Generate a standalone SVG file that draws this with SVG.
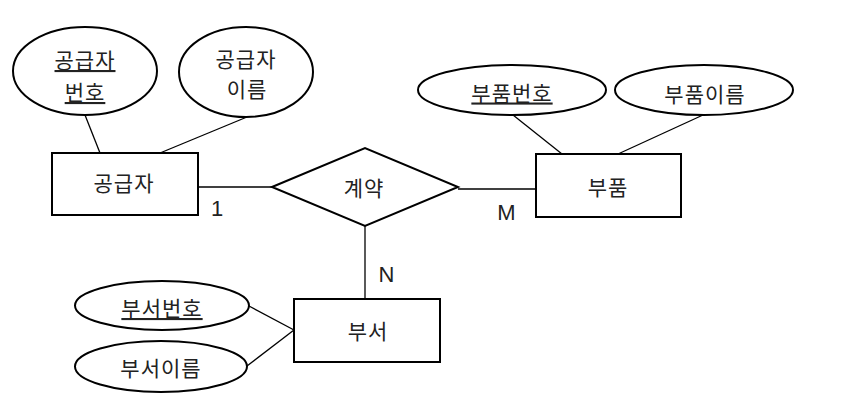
<svg xmlns="http://www.w3.org/2000/svg" width="842" height="418" viewBox="0 0 842 418">
<style>
.shape{fill:#fff;stroke:#000;stroke-width:2}
.conn line{stroke:#000;stroke-width:1.3}
text{font-family:"Noto Sans CJK KR","Noto Sans",sans-serif;font-size:21px;fill:#222;text-anchor:middle;letter-spacing:1px}
.u{text-decoration:underline}
.card{font-family:"Liberation Sans",Arial,sans-serif;font-size:22px;letter-spacing:0}
</style>
<rect width="842" height="418" fill="#fff"/>
<g id="connectors" class="conn">
<line x1="85" y1="115" x2="100" y2="153"/>
<line x1="247" y1="117" x2="160" y2="153"/>
<line x1="198" y1="187" x2="272" y2="187"/>
<line x1="458" y1="189" x2="536" y2="189"/>
<line x1="513" y1="115" x2="562" y2="154"/>
<line x1="703" y1="115" x2="618" y2="154"/>
<line x1="365" y1="226" x2="365" y2="299"/>
<line x1="249" y1="306" x2="294" y2="330"/>
<line x1="247" y1="366" x2="294" y2="330"/>
</g>
<g id="supplier-no">
<ellipse class="shape" cx="85" cy="71" rx="72" ry="44"/>
<text class="u"><tspan x="85" y="68">공급자</tspan><tspan x="85" y="100">번호</tspan></text>
</g>
<g id="supplier-name">
<ellipse class="shape" cx="246" cy="72" rx="67" ry="45"/>
<text><tspan x="246" y="67">공급자</tspan><tspan x="247" y="97">이름</tspan></text>
</g>
<g id="supplier">
<rect class="shape" x="52" y="153" width="146" height="62"/>
<text x="124" y="190.5">공급자</text>
</g>
<g id="contract">
<polygon class="shape" points="272,187 365,148 458,187 365,226"/>
<text x="364" y="195.5">계약</text>
</g>
<g id="part-no">
<ellipse class="shape" cx="512" cy="90" rx="94" ry="25"/>
<text x="512" y="100.5" class="u">부품번호</text>
</g>
<g id="part-name">
<ellipse class="shape" cx="704" cy="90" rx="89" ry="25"/>
<text x="705" y="102">부품이름</text>
</g>
<g id="part">
<rect class="shape" x="536" y="154" width="145" height="63"/>
<text x="608" y="194.5">부품</text>
</g>
<g id="dept-no">
<ellipse class="shape" cx="162" cy="305.5" rx="87" ry="24.5"/>
<text x="162" y="316" class="u">부서번호</text>
</g>
<g id="dept-name">
<ellipse class="shape" cx="161" cy="366.5" rx="86" ry="25.5"/>
<text x="161" y="376">부서이름</text>
</g>
<g id="dept">
<rect class="shape" x="294" y="299" width="146" height="63"/>
<text x="368" y="339">부서</text>
</g>
<g id="cardinalities">
<text class="card" x="217" y="216">1</text>
<text class="card" x="506.5" y="220">M</text>
<text class="card" x="386.5" y="282">N</text>
</g>
</svg>
